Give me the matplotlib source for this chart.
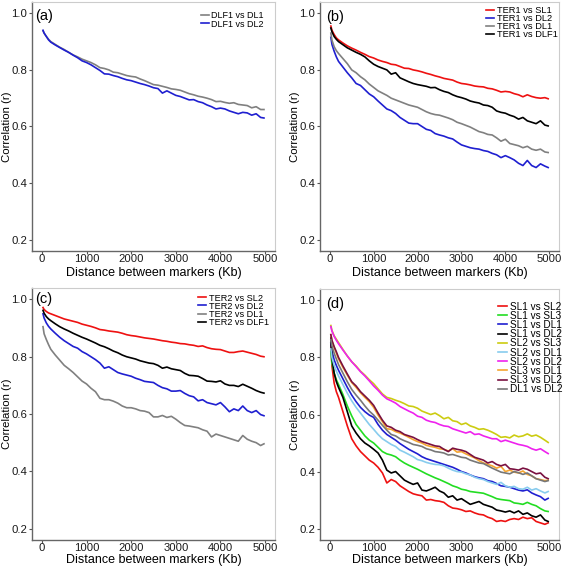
import matplotlib
matplotlib.use("Agg")
import matplotlib.pyplot as plt

plt.rcParams['font.family'] = ['Liberation Sans', 'DejaVu Sans']

# Distance grid (Kb)
distance = [25, 50, 100, 150, 200, 300, 400, 500, 600, 700,
            800, 900, 1000, 1100, 1200, 1300, 1400, 1500, 1600, 1700,
            1800, 1900, 2000, 2100, 2200, 2300, 2400, 2500, 2600, 2700,
            2800, 2900, 3000, 3100, 3200, 3300, 3400, 3500, 3600, 3700,
            3800, 3900, 4000, 4100, 4200, 4300, 4400, 4500, 4600, 4700,
            4800, 4900, 4975]

# ---- Panel (a)
a_dlf1_dl1 = [.938, .930, .918, .908, .900, .890, .880, .872, .862, .853,
              .846, .838, .832, .826, .818, .808, .805, .800, .792, .790,
              .785, .780, .777, .775, .768, .762, .755, .748, .746, .742,
              .738, .733, .731, .728, .722, .716, .712, .707, .704, .700,
              .695, .688, .689, .685, .682, .684, .678, .676, .674, .666,
              .670, .660, .660]
a_dlf1_dl2 = [.940, .930, .918, .906, .898, .888, .879, .870, .862, .852,
              .843, .832, .826, .818, .808, .798, .786, .785, .780, .776,
              .770, .765, .762, .757, .752, .748, .743, .737, .734, .718,
              .726, .718, .710, .706, .700, .694, .695, .688, .684, .676,
              .670, .662, .665, .662, .655, .650, .645, .650, .648, .640,
              .645, .632, .630]

# ---- Panel (b)
b_ter1_sl1 = [.955, .940, .925, .913, .906, .895, .885, .877, .870, .862,
              .855, .847, .842, .835, .830, .826, .820, .818, .812, .806,
              .805, .800, .797, .793, .788, .784, .779, .775, .770, .767,
              .764, .757, .752, .750, .747, .743, .741, .740, .735, .733,
              .728, .722, .724, .722, .716, .712, .705, .712, .706, .702,
              .700, .702, .698]
b_ter1_dl2 = [.915, .890, .866, .846, .830, .810, .790, .772, .752, .745,
              .730, .715, .705, .690, .676, .662, .656, .646, .632, .622,
              .612, .610, .610, .600, .590, .586, .575, .570, .566, .560,
              .556, .545, .535, .530, .525, .522, .520, .515, .512, .505,
              .500, .490, .497, .490, .482, .470, .462, .480, .462, .455,
              .468, .460, .455]
b_ter1_dl1 = [.930, .905, .882, .868, .858, .840, .822, .800, .790, .776,
              .765, .750, .738, .726, .718, .710, .700, .694, .688, .682,
              .676, .672, .668, .660, .652, .646, .642, .640, .635, .630,
              .624, .615, .610, .604, .598, .590, .582, .578, .572, .570,
              .560, .548, .555, .540, .536, .532, .525, .530, .520, .516,
              .520, .510, .508]
b_ter1_dlf1 = [.948, .935, .918, .908, .900, .889, .878, .870, .862, .855,
               .846, .832, .820, .812, .806, .800, .785, .790, .772, .765,
               .758, .752, .748, .745, .742, .737, .738, .730, .724, .720,
               .712, .706, .702, .697, .690, .686, .683, .676, .674, .668,
               .655, .650, .647, .640, .635, .626, .632, .620, .615, .610,
               .620, .605, .602]

# ---- Panel (c)
c_ter2_sl2 = [.972, .965, .958, .953, .950, .944, .938, .932, .928, .924,
              .920, .914, .910, .906, .901, .895, .893, .890, .888, .886,
              .882, .877, .874, .872, .869, .866, .864, .862, .859, .856,
              .854, .851, .849, .846, .845, .842, .840, .836, .838, .832,
              .828, .826, .825, .820, .815, .815, .818, .820, .816, .812,
              .808, .802, .800]
c_ter2_dl2 = [.950, .935, .918, .906, .897, .882, .868, .856, .846, .836,
              .830, .818, .810, .800, .790, .778, .760, .765, .755, .745,
              .740, .736, .732, .725, .720, .714, .712, .710, .700, .692,
              .688, .680, .680, .682, .672, .664, .660, .646, .650, .640,
              .636, .632, .640, .625, .608, .618, .612, .628, .612, .605,
              .612, .598, .594]
c_ter2_dl1 = [.905, .880, .860, .842, .826, .806, .788, .770, .758, .745,
              .730, .715, .705, .690, .678, .655, .650, .650, .645, .638,
              .628, .622, .622, .618, .612, .610, .605, .590, .590, .595,
              .588, .592, .582, .570, .560, .558, .555, .552, .545, .540,
              .520, .530, .525, .520, .515, .510, .505, .525, .512, .505,
              .500, .490, .496]
c_ter2_dlf1 = [.962, .952, .940, .932, .926, .915, .905, .897, .890, .882,
               .875, .868, .862, .855, .848, .840, .835, .828, .820, .814,
               .806, .800, .796, .792, .786, .782, .778, .776, .770, .760,
               .764, .758, .755, .752, .742, .735, .734, .732, .724, .715,
               .714, .712, .716, .705, .700, .700, .696, .704, .697, .690,
               .682, .676, .673]

# ---- Panel (d)
d_sl1_sl2 = [.850, .770, .710, .680, .660, .610, .560, .515, .490, .470,
             .455, .440, .430, .415, .395, .360, .372, .365, .350, .340,
             .330, .322, .318, .315, .300, .302, .298, .296, .292, .280,
             .272, .270, .266, .260, .262, .255, .250, .248, .240, .235,
             .225, .228, .225, .232, .235, .232, .240, .235, .238, .225,
             .220, .215, .220]
d_sl1_sl3 = [.820, .780, .745, .722, .705, .670, .630, .595, .565, .545,
             .525, .510, .500, .485, .470, .462, .458, .452, .440, .430,
             .422, .415, .408, .400, .392, .385, .378, .372, .365, .358,
             .350, .345, .338, .335, .330, .328, .326, .324, .318, .312,
             .305, .302, .300, .298, .290, .288, .285, .292, .285, .280,
             .270, .262, .260]
d_sl1_dl1 = [.850, .822, .792, .772, .755, .725, .695, .668, .645, .625,
             .610, .598, .590, .565, .545, .530, .520, .510, .498, .488,
             .478, .470, .462, .452, .445, .440, .435, .430, .425, .420,
             .415, .408, .400, .395, .388, .382, .378, .375, .368, .365,
             .358, .350, .348, .345, .340, .335, .332, .336, .325, .318,
             .312, .300, .306]
d_sl1_dl2 = [.870, .800, .745, .715, .695, .660, .610, .560, .535, .515,
             .500, .490, .478, .465, .440, .405, .395, .400, .385, .370,
             .362, .355, .360, .335, .332, .338, .345, .332, .325, .310,
             .315, .300, .305, .295, .285, .290, .295, .285, .280, .275,
             .265, .262, .258, .262, .255, .262, .250, .255, .245, .240,
             .248, .230, .225]
d_sl2_sl3 = [.912, .895, .876, .864, .852, .828, .805, .785, .770, .752,
             .738, .722, .708, .690, .672, .660, .656, .650, .645, .638,
             .630, .628, .622, .612, .606, .600, .605, .596, .585, .590,
             .578, .575, .565, .570, .560, .555, .548, .550, .545, .538,
             .530, .520, .522, .518, .528, .522, .525, .532, .524, .528,
             .520, .510, .502]
d_sl2_dl1 = [.830, .800, .772, .752, .735, .705, .675, .648, .625, .605,
             .585, .565, .548, .530, .515, .505, .495, .488, .475, .468,
             .460, .452, .442, .438, .432, .428, .425, .424, .420, .412,
             .405, .400, .398, .392, .388, .380, .375, .372, .365, .360,
             .355, .362, .350, .345, .348, .340, .338, .345, .335, .340,
             .332, .325, .330]
d_sl2_dl2 = [.908, .892, .874, .860, .848, .826, .805, .785, .768, .750,
             .735, .718, .700, .685, .668, .655, .648, .640, .628, .620,
             .612, .605, .594, .590, .580, .575, .572, .565, .560, .558,
             .550, .545, .540, .535, .540, .530, .532, .525, .520, .515,
             .515, .505, .510, .505, .500, .495, .492, .488, .480, .475,
             .480, .470, .463]
d_sl3_dl1 = [.880, .858, .835, .815, .795, .765, .738, .712, .695, .676,
             .660, .645, .625, .598, .575, .550, .548, .540, .535, .528,
             .520, .512, .505, .500, .492, .488, .485, .480, .478, .472,
             .480, .468, .470, .462, .455, .448, .438, .430, .425, .420,
             .412, .418, .400, .405, .398, .395, .402, .390, .385, .375,
             .372, .368, .370]
d_sl3_dl2 = [.880, .860, .838, .820, .800, .770, .742, .715, .700, .680,
             .665, .650, .632, .605, .580, .560, .555, .545, .540, .530,
             .525, .520, .512, .505, .500, .495, .490, .488, .478, .470,
             .482, .478, .475, .470, .460, .450, .445, .440, .430, .435,
             .425, .420, .425, .410, .408, .405, .412, .408, .400, .392,
             .395, .380, .375]
d_dl1_dl2 = [.862, .840, .815, .795, .775, .745, .715, .688, .668, .650,
             .630, .612, .598, .580, .562, .545, .530, .525, .515, .508,
             .502, .495, .492, .488, .480, .476, .470, .468, .465, .458,
             .460, .455, .450, .448, .440, .435, .430, .428, .420, .412,
             .405, .398, .395, .392, .400, .396, .390, .395, .385, .375,
             .370, .365, .368]

x_ticks = [0, 1000, 2000, 3000, 4000, 5000]
y_ticks = [0.2, 0.4, 0.6, 0.8, 1.0]

# label, axes rect, panel-label pos (axes frac), legend anchor, legend font, label spacing, xlabel y
panels = [
    ("(a)", [0.0564, 0.5573, 0.4286, 0.4392], (0.012, 0.943), (0.695, 0.962), 6.5, -0.10, -0.090,
     [("DLF1 vs DL1", a_dlf1_dl1, "#808080"),
      ("DLF1 vs DL2", a_dlf1_dl2, "#1f1fd0")]),
    ("(b)", [0.5644, 0.5573, 0.4215, 0.4392], (0.025, 0.940), (0.695, 0.982), 6.7, -0.13, -0.090,
     [("TER1 vs SL1", b_ter1_sl1, "#ee1111"),
      ("TER1 vs DL2", b_ter1_dl2, "#1f1fd0"),
      ("TER1 vs DL1", b_ter1_dl1, "#808080"),
      ("TER1 vs DLF1", b_ter1_dlf1, "#000000")]),
    ("(c)", [0.0564, 0.0476, 0.4286, 0.4444], (0.012, 0.956), (0.683, 0.978), 6.6, -0.10, -0.080,
     [("TER2 vs SL2", c_ter2_sl2, "#ee1111"),
      ("TER2 vs DL2", c_ter2_dl2, "#1f1fd0"),
      ("TER2 vs DL1", c_ter2_dl1, "#808080"),
      ("TER2 vs DLF1", c_ter2_dlf1, "#000000")]),
    ("(d)", [0.5644, 0.0476, 0.4215, 0.4427], (0.025, 0.940), (0.745, 0.950), 7.2, -0.08, -0.080,
     [("SL1 vs SL2", d_sl1_sl2, "#ee1111"),
      ("SL1 vs SL3", d_sl1_sl3, "#22dd22"),
      ("SL1 vs DL1", d_sl1_dl1, "#1f1fd0"),
      ("SL1 vs DL2", d_sl1_dl2, "#000000"),
      ("SL2 vs SL3", d_sl2_sl3, "#cccc11"),
      ("SL2 vs DL1", d_sl2_dl1, "#88ccee"),
      ("SL2 vs DL2", d_sl2_dl2, "#ee22ee"),
      ("SL3 vs DL1", d_sl3_dl1, "#f5a530"),
      ("SL3 vs DL2", d_sl3_dl2, "#7a1040"),
      ("DL1 vs DL2", d_dl1_dl2, "#777777")]),
]

fig = plt.figure(figsize=(5.67, 5.67), dpi=100)
for label, pos, lab_xy, leg_anchor, leg_fs, leg_sp, xlab_y, series in panels:
    ax = fig.add_axes(pos)
    for name, vals, col in series:
        ax.plot(distance, vals, color=col, lw=1.2, label=name)
    ax.set_xlim(-222, 5222)
    ax.set_ylim(0.16, 1.04)
    ax.set_xticks(x_ticks)
    ax.set_yticks(y_ticks)
    ax.set_yticklabels([f"{v:.1f}" for v in y_ticks])
    ax.tick_params(length=2.5, width=0.8, color="#555555",
                   labelcolor="#1a1a1a", pad=0.8)
    ax.tick_params(axis="x", labelsize=8.1, pad=0.0)
    ax.tick_params(axis="y", labelsize=8.2)
    for s in ("top", "right"):
        ax.spines[s].set_color("#cccccc")
        ax.spines[s].set_linewidth(0.8)
    for s in ("left", "bottom"):
        ax.spines[s].set_color("#666666")
        ax.spines[s].set_linewidth(1.0)
    ax.set_xlabel("Distance between markers (Kb)", fontsize=9.0, va="center")
    ax.xaxis.set_label_coords(0.5, xlab_y)
    ax.set_ylabel("Correlation (r)", fontsize=8.2, va="center")
    ax.yaxis.set_label_coords(-0.103, 0.5)
    ax.text(lab_xy[0], lab_xy[1], label, transform=ax.transAxes,
            fontsize=10.5, va="center", ha="left")
    ax.legend(loc="upper left", bbox_to_anchor=leg_anchor, frameon=False,
              fontsize=leg_fs, handlelength=0.9, handletextpad=0.25,
              labelspacing=leg_sp, borderaxespad=0, borderpad=0)

fig.savefig("out.png", dpi=100)
